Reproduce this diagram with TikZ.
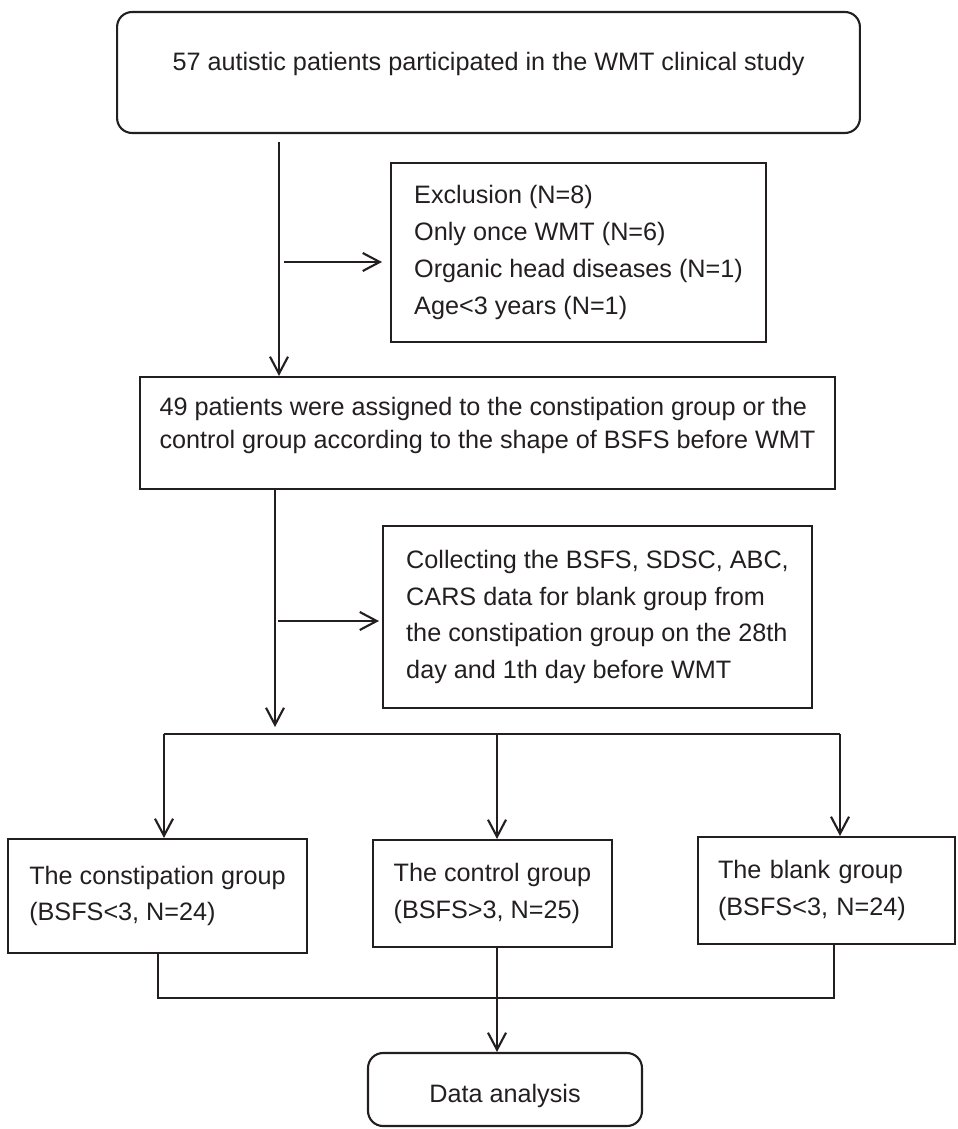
\documentclass[tikz,border=0pt]{standalone}
\usepackage{fontspec}
\setmainfont{Liberation Sans}
\usetikzlibrary{arrows.meta,positioning,calc}
\definecolor{ink}{HTML}{231F20}

\begin{document}
\begin{tikzpicture}[x=0.02cm, y=-0.02cm, >={Straight Barb[length=0.34cm, width=0.36cm]},
  every node/.style={font=\fontsize{14.35}{21}\selectfont, text=ink},
  flowbox/.style={draw=ink, line width=1.2pt, rectangle, align=left, inner sep=0.2cm},
  roundbox/.style={flowbox, rounded corners=0.3cm, align=center},
  link/.style={draw=ink, line width=1.2pt}]
  \useasboundingbox (0,0) rectangle (957,1129);
  % boxes
  \node[roundbox, minimum width=14.86cm, minimum height=2.42cm, text depth=0.45cm] (study) at (488.5,72.5) {57 autistic patients participated in the WMT clinical study};
  \node[flowbox, minimum width=7.5cm, minimum height=3.58cm] (excl) at (578.5,252.5) {Exclusion (N=8)\\Only once WMT (N=6)\\Organic head diseases (N=1)\\Age<3 years (N=1)};
  \node[flowbox, minimum width=13.9cm, minimum height=2.24cm, text depth=0.4cm, font=\fontsize{14.35}{19}\selectfont] (assign) at (487.5,433) {49 patients were assigned to the constipation group or the\\control group according to the shape of BSFS before WMT};
  \node[flowbox, minimum width=8.58cm, minimum height=3.64cm] (collect) at (597.5,617) {Collecting the BSFS, SDSC, ABC,\\CARS data for blank group from\\the constipation group on the 28th\\day and 1th day before WMT};
  \node[flowbox, minimum width=5.98cm, minimum height=2.28cm] (const) at (157.5,896) {The constipation group\\(BSFS<3, N=24)};
  \node[flowbox, minimum width=4.78cm, minimum height=2.14cm] (control) at (492.5,893.5) {The control group\\(BSFS>3, N=25)};
  \node[flowbox, text width=4.34cm, inner xsep=0.4cm, minimum height=2.14cm] (blank) at (826.5,890.5) {The blank group\\(BSFS<3, N=24)};
  \node[roundbox, minimum width=5.48cm, minimum height=1.46cm, text height=0.62cm] (data) at (505,1089.5) {Data analysis};
  % trunk and side branches
  \coordinate (j1) at (279,262);
  \coordinate (j2) at (275,621);
  \draw[link, ->, shorten <=0.16cm] (study.south -| j1) -- (assign.north -| j1);
  \draw[link, ->, shorten >=0.16cm] ([xshift=0.1cm]j1) -- (excl.west |- j1);
  \coordinate (sL) at (164,734);
  \coordinate (sM) at (497,734);
  \coordinate (sR) at (840,734);
  \draw[link, ->, shorten >=0.14cm] (assign.south -| j2) -- (j2 |- sL);
  \draw[link, ->, shorten >=0.06cm] ([xshift=0.06cm]j2) -- (collect.west |- j2);
  % split into three groups
  \draw[link] (sL) -- (sR);
  \foreach \g/\c in {const/sL, control/sM, blank/sR} {
    \draw[link, ->] (\c) -- (\c |- \g.north);
  }
  % merge into data analysis
  \coordinate (mL) at (158,998);
  \coordinate (mM) at (497,998);
  \coordinate (mR) at (834,998);
  \draw[link] (mL |- const.south) -- (mL) -- (mR) -- (mR |- blank.south);
  \draw[link, ->] (mM |- control.south) -- (mM |- data.north);
\end{tikzpicture}
\end{document}
